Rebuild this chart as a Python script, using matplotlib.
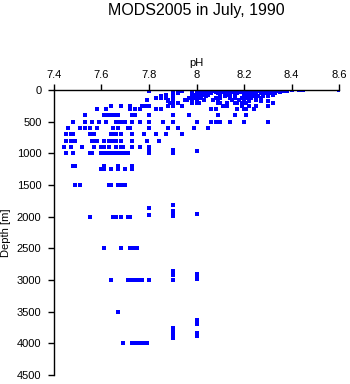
import matplotlib
matplotlib.use("Agg")
import matplotlib.pyplot as plt

plt.rcParams['font.family'] = ['Liberation Sans', 'DejaVu Sans']

title = "MODS2005 in July, 1990"
x_label = "pH"
y_label = "Depth [m]"
x_ticks = [7.4, 7.6, 7.8, 8.0, 8.2, 8.4, 8.6]
x_tick_labels = ["7.4", "7.6", "7.8", "8", "8.2", "8.4", "8.6"]
y_ticks = [0, 500, 1000, 1500, 2000, 2500, 3000, 3500, 4000, 4500]

# pH observations grouped by (standard) depth level
levels = {
    0:    [7.80, 7.90, 8.00, 8.02, 8.05, 8.08, 8.10, 8.12, 8.15, 8.18, 8.20, 8.22,
           8.24, 8.26, 8.28, 8.30, 8.32, 8.35, 8.38, 8.40, 8.43, 8.45, 8.60],
    10:   [8.00, 8.03, 8.06, 8.09, 8.11, 8.14, 8.16, 8.19, 8.21, 8.23, 8.25, 8.27,
           8.29, 8.31, 8.33, 8.36, 8.38],
    20:   [7.80, 7.94, 8.00, 8.02, 8.04, 8.07, 8.10, 8.13, 8.15, 8.17, 8.20, 8.22,
           8.24, 8.26, 8.28, 8.30, 8.32, 8.34, 8.37],
    30:   [7.90, 8.00, 8.01, 8.03, 8.05, 8.08, 8.11, 8.12, 8.15, 8.18, 8.19, 8.21,
           8.23, 8.25, 8.27, 8.29, 8.31, 8.33, 8.35],
    50:   [7.90, 7.92, 7.98, 8.00, 8.02, 8.04, 8.06, 8.09, 8.12, 8.14, 8.17, 8.20,
           8.22, 8.24, 8.27, 8.29, 8.31, 8.33],
    75:   [7.87, 7.90, 7.99, 8.00, 8.01, 8.03, 8.05, 8.10, 8.13, 8.16, 8.20, 8.21,
           8.23, 8.25, 8.28, 8.30, 8.32],
    100:  [7.85, 7.90, 7.98, 8.00, 8.02, 8.04, 8.10, 8.12, 8.14, 8.20, 8.22, 8.24,
           8.26, 8.28, 8.30],
    125:  [7.83, 7.85, 7.87, 7.90, 7.97, 7.99, 8.00, 8.02, 8.08, 8.10, 8.14, 8.16,
           8.19, 8.21, 8.23, 8.27],
    150:  [7.79, 7.88, 7.90, 7.95, 7.96, 7.98, 8.00, 8.03, 8.07, 8.09, 8.15, 8.18,
           8.20, 8.22, 8.25],
    175:  [7.88, 7.90, 8.22, 8.27, 8.30],
    200:  [7.89, 7.90, 7.92, 7.98, 8.00, 8.01, 8.09, 8.10, 8.13, 8.16, 8.17, 8.19,
           8.20, 8.21, 8.32],
    250:  [7.64, 7.68, 7.72, 7.77, 7.78, 7.79, 7.80, 7.88, 7.90, 7.94, 8.11, 8.13,
           8.19, 8.22, 8.25, 8.30],
    300:  [7.58, 7.62, 7.72, 7.74, 7.76, 7.83, 7.85, 8.06, 8.08, 8.17, 8.20, 8.21,
           8.24],
    400:  [7.53, 7.61, 7.62, 7.63, 7.65, 7.66, 7.67, 7.73, 7.74, 7.80, 7.90, 7.97,
           8.09, 8.16, 8.21],
    500:  [7.48, 7.53, 7.56, 7.59, 7.62, 7.66, 7.67, 7.68, 7.70, 7.73, 7.76, 7.80,
           7.86, 7.90, 8.00, 8.06, 8.08, 8.10, 8.14, 8.20, 8.30],
    600:  [7.46, 7.51, 7.53, 7.55, 7.58, 7.65, 7.67, 7.71, 7.72, 7.80, 7.88, 7.92,
           7.99, 8.05],
    700:  [7.45, 7.47, 7.48, 7.55, 7.57, 7.64, 7.65, 7.66, 7.68, 7.73, 7.78, 7.83,
           7.87, 7.94],
    800:  [7.45, 7.47, 7.48, 7.49, 7.56, 7.57, 7.58, 7.61, 7.63, 7.64, 7.65, 7.66,
           7.68, 7.73, 7.79, 7.84],
    900:  [7.44, 7.47, 7.52, 7.57, 7.60, 7.61, 7.63, 7.66, 7.68, 7.69, 7.73, 7.76,
           7.80],
    1000: [7.45, 7.48, 7.55, 7.56, 7.60, 7.61, 7.62, 7.63, 7.65, 7.66, 7.67, 7.68,
           7.70, 7.71, 7.80, 7.90],
    1200: [7.48, 7.49, 7.61, 7.67, 7.73],
    1250: [7.60, 7.61, 7.64, 7.67, 7.70, 7.73],
    1500: [7.49, 7.51, 7.63, 7.64, 7.67, 7.68, 7.69, 7.70],
    2000: [7.55, 7.65, 7.66, 7.68, 7.71, 7.72],
    2500: [7.61, 7.68, 7.68, 7.72, 7.73, 7.74, 7.75],
    3000: [7.64, 7.71, 7.73, 7.74, 7.75, 7.76, 7.77, 7.80],
    3500: [7.67],
    4000: [7.69, 7.73, 7.74, 7.75, 7.76, 7.77, 7.78, 7.79],
}

# profiles reported at one-decimal pH at observed (non-standard) depths
ph_78_depths = [900, 960, 1000, 1860, 1980]
ph_79_depths = [950, 980, 1000, 1820, 1910, 1960, 1990, 2860, 2890, 2920, 3000,
                3760, 3800, 3840, 3870, 3910]
ph_80_depths = [970, 1965, 2910, 2950, 2990, 3630, 3660, 3700, 3840, 3860, 3885]

ph_vals = []
depth_vals = []
for d, phs in levels.items():
    for p in phs:
        ph_vals.append(p)
        depth_vals.append(d)
for p, ds in ((7.8, ph_78_depths), (7.9, ph_79_depths), (8.0, ph_80_depths)):
    for d in ds:
        ph_vals.append(p)
        depth_vals.append(d)

fig = plt.figure(figsize=(3.5, 3.84), dpi=100)
ax = fig.add_axes([54 / 350, 1 - 375 / 384, 285 / 350, 285 / 384])

ax.plot(ph_vals, depth_vals, linestyle='none', marker='s', markersize=2.2,
        markeredgewidth=0, color='#0000ff', antialiased=False)

ax.set_xlim(7.4, 8.6)
ax.set_ylim(4500, 0)
ax.xaxis.tick_top()
ax.xaxis.set_label_position('top')
ax.set_xticks(x_ticks)
ax.set_xticklabels(x_tick_labels)
ax.set_yticks(y_ticks)
ax.set_xlabel(x_label, fontsize=8, labelpad=3)
ax.set_ylabel(y_label, fontsize=8, labelpad=4)
ax.tick_params(axis='both', labelsize=8, length=4, width=1, direction='out')
ax.tick_params(axis='x', pad=3)
ax.tick_params(axis='y', pad=5)
for s in ('right', 'bottom'):
    ax.spines[s].set_visible(False)
for s in ('left', 'top'):
    ax.spines[s].set_linewidth(1)

fig.text(196.5 / 350, 1 - 10 / 384, title, ha='center', va='center', fontsize=11.5)

fig.savefig('out.png', dpi=100)
